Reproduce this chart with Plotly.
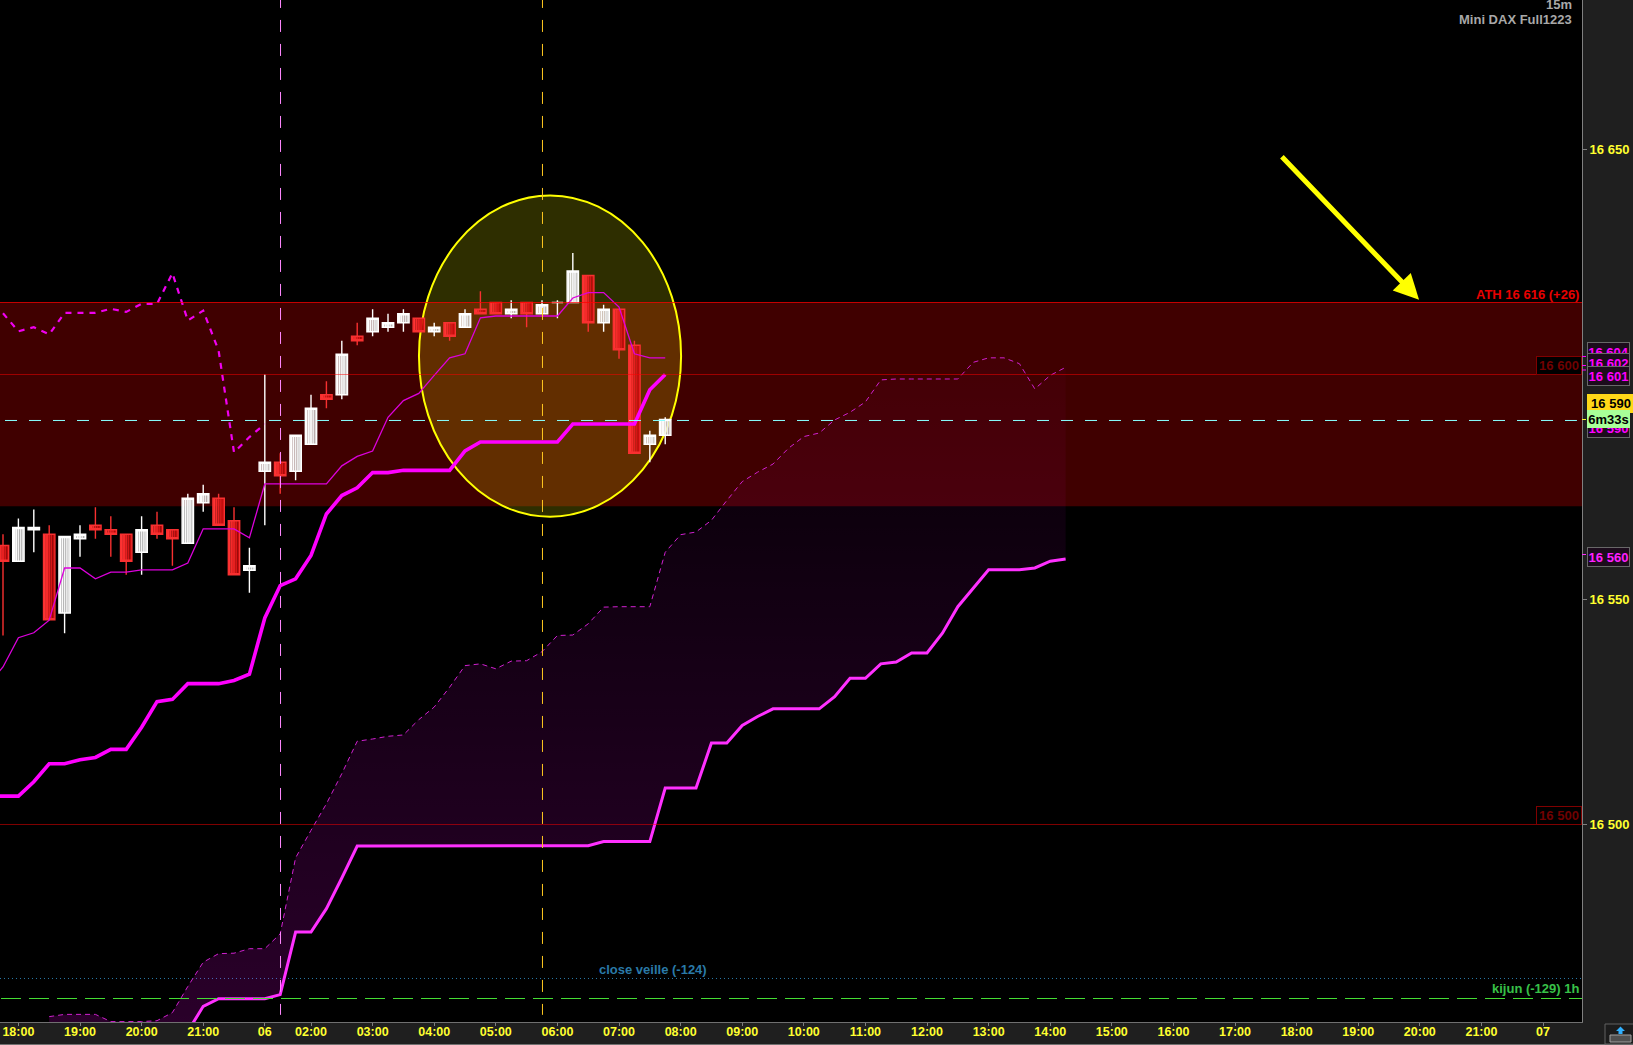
import plotly.graph_objects as go

# ---------- data ----------
CANDLE_X = list(range(-1, 43))
OPEN = [16562, 16558.5, 16565.5, 16564.5, 16547, 16563.5, 16566.5, 16565.5, 16564.5, 16560.5, 16566.5, 16565.5,
        16562.5, 16571.5, 16572.5, 16567.5, 16556.5, 16578.5, 16580.5, 16578.5, 16584.5, 16595.5, 16595.5, 16608.5,
        16609.5, 16610.5, 16611.5, 16612.5, 16609.5, 16611.5, 16610.5, 16614.5, 16616, 16613.5, 16616, 16613.5,
        16616, 16616, 16622, 16611.5, 16614.5, 16606.5, 16584.5, 16586.5]
HIGH = [16564.5, 16568, 16570, 16566.5, 16564, 16566.5, 16570.5, 16568.5, 16564.5, 16568.5, 16569.5, 16565.5,
        16573.5, 16575.5, 16573.5, 16570.5, 16561.5, 16600, 16582.5, 16586.5, 16595.5, 16598.5, 16607.5, 16611.5,
        16614.5, 16613.5, 16614.5, 16612.5, 16611.5, 16611.5, 16614.5, 16618.5, 16616, 16616.5, 16616, 16616.5,
        16616.5, 16627, 16622, 16615.5, 16614.5, 16607.5, 16587.5, 16590.5]
LOW = [16542, 16558.5, 16560.5, 16545.5, 16542.5, 16559.5, 16563.5, 16559.5, 16555.5, 16555.5, 16563.5, 16557.5,
       16562.5, 16569.5, 16566.5, 16555.5, 16551.5, 16566.5, 16573.5, 16576.5, 16584.5, 16592.5, 16594.5, 16606.5,
       16608.5, 16609.5, 16609.5, 16609.5, 16608.5, 16607.5, 16610.5, 16613.5, 16613.5, 16612.5, 16610.5, 16613.5,
       16612.5, 16616, 16609.5, 16609.5, 16603.5, 16582.5, 16580.5, 16584.5]
CLOSE = [16558.5, 16566, 16566, 16545.5, 16564, 16564.5, 16565.5, 16564.5, 16558.5, 16565.5, 16564.5, 16563.5,
         16572.5, 16573.5, 16566.5, 16555.5, 16557.5, 16580.5, 16577.5, 16586.5, 16592.5, 16594.5, 16604.5, 16607.5,
         16612.5, 16611.5, 16613.5, 16609.5, 16610.5, 16608.5, 16613.5, 16613.5, 16613.5, 16614.5, 16613.5, 16615.5,
         16616, 16623, 16611.5, 16614.5, 16605.5, 16582.5, 16586.5, 16590]

LINE_X = list(range(-2, 43))
TENKAN = [16531, 16535, 16541.5, 16542.6, 16545.4, 16557, 16557, 16554.6, 16556.1, 16556.1, 16556.6, 16556.6,
          16556.6, 16558.1, 16565.7, 16565.7, 16565.7, 16563.7, 16575.7, 16575.7, 16575.7, 16575.7, 16575.7,
          16579.7, 16581.8, 16583, 16590.5, 16594.2, 16595.8, 16599.8, 16603.7, 16604.6, 16612.6, 16613, 16613,
          16613, 16613, 16613, 16617, 16618.2, 16618.2, 16615, 16604.6, 16603.7, 16603.7]
KIJUN = [16506.3, 16506.3, 16506.3, 16509.5, 16513.5, 16513.5, 16514.4, 16514.9, 16516.7, 16516.7, 16521.6, 16527.3,
         16527.8, 16531.3, 16531.3, 16531.3, 16532, 16533.4, 16545.9, 16553.1, 16554.6, 16559.8, 16569, 16573.1,
         16574.8, 16578.2, 16578.2, 16578.7, 16578.7, 16578.7, 16578.7, 16583, 16585, 16585, 16585, 16585, 16585,
         16585, 16589, 16589, 16589, 16589, 16589, 16596.6, 16600]

CHIKOU_X = list(range(-1, 17))
CHIKOU = [16613.6, 16609.6, 16610.5, 16608.9, 16613.7, 16613.7, 16613.7, 16614.6, 16613.9, 16615.7, 16615.7,
          16622.5, 16612, 16614.2, 16605.3, 16582.7, 16586.1, 16589]

SENKOU_X = list(range(2, 69))
SENKOU_A = [16457.3, 16457.8, 16457.8, 16457.8, 16456.2, 16456.2, 16456.2, 16456.4, 16458.2, 16464, 16469.4,
            16471.3, 16471.4, 16472.4, 16472.4, 16475.7, 16492.6, 16498.7, 16504.6, 16511.3, 16518.5, 16519, 16519.6,
            16519.9, 16523.3, 16526.1, 16530.5, 16535.3, 16535.7, 16534.6, 16536.3, 16536.4, 16538.4, 16542, 16542.1,
            16544.6, 16548.3, 16548.4, 16548.4, 16548.4, 16560.5, 16564.4, 16565, 16567.6, 16572, 16576.2, 16578.3,
            16580.1, 16583.6, 16586.2, 16587, 16589.9, 16591.6, 16593.9, 16598.8, 16599, 16599, 16599, 16599, 16599,
            16602.7, 16603.7, 16603.7, 16602.4, 16596.8, 16599.8, 16601.6]
SENKOU_B = [16450, 16450, 16450, 16450, 16450, 16450, 16450, 16450, 16452, 16454, 16459.6, 16461.3, 16461.3, 16461.3,
            16461.3, 16462.2, 16476.1, 16476.1, 16481.3, 16488.1, 16495.2, 16495.2, 16495.2, 16495.2, 16495.2, 16495.2,
            16495.2, 16495.2, 16495.2, 16495.2, 16495.2, 16495.2, 16495.2, 16495.2, 16495.3, 16495.3, 16496.2, 16496.2,
            16496.2, 16496.2, 16508.1, 16508.1, 16508.1, 16518.1, 16518.1, 16522, 16524, 16525.7, 16525.7, 16525.7,
            16525.7, 16528.4, 16532.5, 16532.5, 16535.7, 16536.1, 16538.1, 16538.1, 16542.5, 16548.4, 16552.6, 16556.6,
            16556.6, 16556.6, 16557, 16558.5, 16559]

TICK_X = [0, 4, 8, 12, 16, 19, 23, 27, 31, 35, 39, 43, 47, 51, 55, 59, 63, 67, 71, 75, 79, 83, 87, 91, 95, 99]
TICK_TEXT = ["18:00", "19:00", "20:00", "21:00", "06", "02:00", "03:00", "04:00", "05:00", "06:00", "07:00", "08:00",
             "09:00", "10:00", "11:00", "12:00", "13:00", "14:00", "15:00", "16:00", "17:00", "18:00", "19:00",
             "20:00", "21:00", "07"]
Y_TICKS = [16500, 16550, 16650]
Y_TICK_TEXT = ["16 500", "16 550", "16 650"]

ATH, ZONE_LOW = 16616, 16570.7
LEVEL_600, LEVEL_500 = 16600, 16500
PRICE = 16589.78
CLOSE_VEILLE, KIJUN_1H = 16465.78, 16461.33
MARK_1, MARK_2 = 17.02, 34.03
X_RANGE = [-1.195, 101.53]
Y_RANGE = [16456.11, 16683.22]
CIRCLE_X = [26.01, 43.03]
CIRCLE_Y = [16568.4, 16639.8]
ARROW_TAIL = (81.95, 16648.7)
ARROW_TIP = (90.95, 16616.6)

W, H, PW, PH = 1633, 1045, 1582, 1022
FONT = "Liberation Sans"
RED_STEPS = ["#ff3434", "#f52a2a", "#e62020", "#d61616", "#c60c0c"]
WHITE_STEPS = ["#ffffff", "#fbfbfb", "#f3f3f3", "#e9e9e9", "#dfdfdf"]
BODY = 0.72

fig = go.Figure()

# gradient candle bodies
red = [k for k in range(len(CANDLE_X)) if CLOSE[k] < OPEN[k]]
white = [k for k in range(len(CANDLE_X)) if CLOSE[k] >= OPEN[k]]
for idx, steps, in ((red, RED_STEPS), (white, WHITE_STEPS)):
    for n, col in enumerate(steps):
        fig.add_trace(go.Bar(
            x=[CANDLE_X[k] for k in idx],
            y=[abs(CLOSE[k] - OPEN[k]) for k in idx],
            base=[min(CLOSE[k], OPEN[k]) for k in idx],
            width=BODY / len(steps), offset=-BODY / 2 + n * BODY / len(steps),
            marker=dict(color=col, line=dict(width=0)), hoverinfo="skip", showlegend=False))

fig.add_trace(go.Candlestick(
    x=CANDLE_X, open=OPEN, high=HIGH, low=LOW, close=CLOSE, whiskerwidth=0,
    increasing=dict(line=dict(color="#ffffff", width=1.4), fillcolor="rgba(0,0,0,0)"),
    decreasing=dict(line=dict(color="#f83030", width=1.4), fillcolor="rgba(0,0,0,0)"),
    hoverinfo="skip", showlegend=False))

# cloud
fig.add_trace(go.Scatter(
    x=SENKOU_X + SENKOU_X[::-1], y=SENKOU_A + SENKOU_B[::-1], mode="none", fill="toself",
    fillgradient=dict(type="vertical", colorscale=[[0, "rgba(255,0,255,0.17)"], [1, "rgba(255,0,255,0.02)"]]),
    hoverinfo="skip", showlegend=False))
fig.add_trace(go.Scatter(x=SENKOU_X, y=SENKOU_A, mode="lines", hoverinfo="skip", showlegend=False,
                         line=dict(color="#d020d0", width=1, dash="5px,4px")))
fig.add_trace(go.Scatter(x=SENKOU_X, y=SENKOU_B, mode="lines", hoverinfo="skip", showlegend=False,
                         line=dict(color="#ff30ff", width=3)))
fig.add_trace(go.Scatter(x=LINE_X, y=TENKAN, mode="lines", hoverinfo="skip", showlegend=False,
                         line=dict(color="#dd00dd", width=1.3)))
fig.add_trace(go.Scatter(x=LINE_X, y=KIJUN, mode="lines", hoverinfo="skip", showlegend=False,
                         line=dict(color="#ff00ff", width=3.6)))
fig.add_trace(go.Scatter(x=CHIKOU_X, y=CHIKOU, mode="lines", hoverinfo="skip", showlegend=False,
                         line=dict(color="#f000f0", width=2.2, dash="6px,6px")))


def px_x(p):
    return p / PW


def px_y(p):
    return (PH - p) / PH


shapes = [
    dict(type="rect", layer="below", xref="paper", x0=0, x1=1, yref="y", y0=ZONE_LOW, y1=ATH,
         fillcolor="#400000", line_width=0),
    dict(type="circle", layer="below", xref="x", yref="y", x0=CIRCLE_X[0], x1=CIRCLE_X[1],
         y0=CIRCLE_Y[0], y1=CIRCLE_Y[1], fillcolor="rgba(255,255,0,0.18)", line=dict(color="#ffff00", width=2)),
]
for lvl, col in ((ATH, "rgba(255,0,0,0.75)"), (LEVEL_600, "rgba(255,0,0,0.5)"), (LEVEL_500, "rgba(255,0,0,0.5)")):
    shapes.append(dict(type="line", layer="above", xref="paper", x0=0, x1=1, yref="y", y0=lvl, y1=lvl,
                       line=dict(color=col, width=1)))
shapes += [
    dict(type="line", layer="above", xref="x", x0=-0.87, x1=101.2, yref="y", y0=PRICE, y1=PRICE,
         line=dict(color="#88ffff", width=1, dash="12px,12px")),
    dict(type="line", layer="below", xref="paper", x0=0, x1=1, yref="y", y0=CLOSE_VEILLE, y1=CLOSE_VEILLE,
         line=dict(color="#2a7aa8", width=1, dash="1px,3px")),
    dict(type="line", layer="above", xref="x", x0=-1.13, x1=X_RANGE[1], yref="y", y0=KIJUN_1H, y1=KIJUN_1H,
         line=dict(color="#44dd33", width=1, dash="20px,8px")),
]
for m, col in ((MARK_1, "#ff88ff"), (MARK_2, "#ffc820")):
    shapes.append(dict(type="line", layer="above", xref="x", x0=m, x1=m, yref="y",
                       y0=Y_RANGE[1] + 0.9, y1=16457.7, line=dict(color=col, width=1, dash="12px,12px")))
# coloured price marks on the axis
for val, col in ((16604, "#ff00ff"), (16602, "#ff00ff"), (16601, "#ff00ff"), (16590, "#ffff30"), (16560, "#ff30ff")):
    shapes.append(dict(type="line", xref="paper", x0=1, x1=1 + 4 / PW, yref="y", y0=val, y1=val,
                       line=dict(color=col, width=1)))
# keyboard button, bottom right
shapes += [
    dict(type="line", xref="paper", yref="paper", x0=0, x1=W / PW, y0=px_y(1044.5), y1=px_y(1044.5),
         line=dict(color="#707070", width=1)),
    dict(type="rect", xref="paper", yref="paper", x0=px_x(1605), x1=px_x(1634), y0=px_y(1044), y1=px_y(1024),
         fillcolor="#1c1c1c", line=dict(color="#606060", width=1)),
    dict(type="rect", xref="paper", yref="paper", x0=px_x(1610), x1=px_x(1631), y0=px_y(1042), y1=px_y(1035),
         fillcolor="#505050", line=dict(color="#a0a0a0", width=1)),
    dict(type="path", xref="paper", yref="paper",
         path="M {} {} L {} {} L {} {} L {} {} L {} {} L {} {} L {} {} Z".format(
             px_x(1620.5), px_y(1026.5), px_x(1625), px_y(1031), px_x(1622.5), px_y(1031), px_x(1622.5), px_y(1034),
             px_x(1618.5), px_y(1034), px_x(1618.5), px_y(1031), px_x(1616), px_y(1031)),
         fillcolor="#30b0ff", line_width=0),
]

anns = []


def text(t, x, y, color, anchor="right", size=13, yanchor="middle"):
    anns.append(dict(text=t, xref="paper", yref="paper", x=px_x(x), y=px_y(y), xanchor=anchor, yanchor=yanchor,
                     showarrow=False, font=dict(family=FONT, size=size, color=color, weight="bold")))


def box(t, val, color, bg, border, xshift=5, yshift=0, width=42, height=18, xleft=1.0):
    anns.append(dict(text=t, xref="paper", yref="y", x=xleft, y=val, xanchor="left", yanchor="middle",
                     xshift=xshift, yshift=yshift, showarrow=False, width=width, height=height, align="center",
                     valign="middle", bgcolor=bg, bordercolor=border, borderwidth=1, borderpad=0,
                     font=dict(family=FONT, size=13, color=color, weight="bold")))


text("15m", 1574, 5, "#a8a8a8")
text("Mini DAX Full1223", 1574, 19, "#a8a8a8")
text("ATH 16 616 (+26)", 1581, 294, "#e80000")
text("close veille (-124)", 653, 969, "#2a7aa8", anchor="center")
text("kijun (-129) 1h", 1580.5, 988, "#38c048")

box("16 600", LEVEL_600, "#700000", "#000000", "#800000", xshift=-46, yshift=9, width=44, height=17)
box("16 500", LEVEL_500, "#700000", "#000000", "#800000", xshift=-46, yshift=9, width=44, height=17)

MAG_BG, MAG_BORDER = "#1c0c1c", "#686868"
box("16 604", 16604, "#ff00ff", MAG_BG, MAG_BORDER, yshift=4.5, width=41)
box("16 602", 16602, "#ff00ff", MAG_BG, MAG_BORDER, yshift=2.5, width=41)
box("16 601", 16601, "#ff00ff", MAG_BG, MAG_BORDER, yshift=-6, width=41)
box("16 590", 16590, "#ff00ff", MAG_BG, MAG_BORDER, yshift=-8.5, width=41)
box("16 590", 16590, "#000000", "#ffd818", "#ffd818", yshift=16, width=46, height=17)
box("6m33s", 16590, "#000000", "#a8ff98", "#a8ff98", yshift=0, height=16, width=41)
box("16 560", 16559.5, "#ff20ff", "#1c0c1c", "#686868", width=41)

anns.append(dict(x=ARROW_TIP[0], y=ARROW_TIP[1], ax=ARROW_TAIL[0], ay=ARROW_TAIL[1], xref="x", yref="y",
                 axref="x", ayref="y", text="", showarrow=True, arrowhead=2, arrowsize=1.0, arrowwidth=5,
                 arrowcolor="#ffff00"))

fig.update_layout(
    width=W, height=H, autosize=False, margin=dict(l=0, r=W - PW, t=0, b=H - PH, pad=0),
    paper_bgcolor="#1f1f1f", plot_bgcolor="#000000", barmode="overlay", boxgap=0.14, boxgroupgap=0.14,
    showlegend=False, shapes=shapes, annotations=anns, hovermode=False,
    font=dict(family=FONT, color="#ffff30"),
    xaxis=dict(range=X_RANGE, tickmode="array", tickvals=TICK_X, ticktext=TICK_TEXT, showgrid=False, zeroline=False,
               rangeslider=dict(visible=False), showline=True, linecolor="#707070", linewidth=1,
               ticks="outside", ticklen=3, tickcolor="#808080", tickangle=0, ticklabelstandoff=-5,
               tickfont=dict(family=FONT, size=12.5, color="#ffff30", weight="bold")),
    yaxis=dict(range=Y_RANGE, side="right", tickmode="array", tickvals=Y_TICKS, ticktext=Y_TICK_TEXT, showgrid=False,
               zeroline=False, showline=True, linecolor="#808080", linewidth=1, ticks="outside", ticklen=4,
               tickcolor="#808080", tickfont=dict(family=FONT, size=13, color="#ffff30", weight="bold")),
)

fig.write_html("out.html", config=dict(displayModeBar=False),
               post_script="document.body.style.margin='0';document.documentElement.style.overflow='hidden';")
